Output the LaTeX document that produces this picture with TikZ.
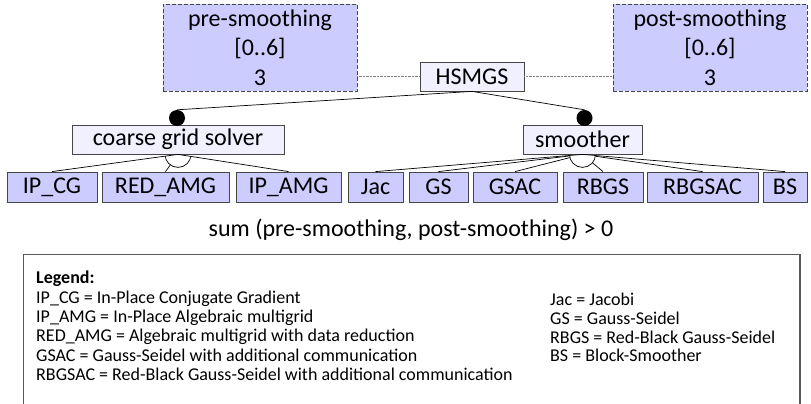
\documentclass[tikz,border=0pt]{standalone}
\usepackage{fontspec}
\setmainfont{Carlito}
\definecolor{boxfill}{RGB}{204,204,255}
\definecolor{lightfill}{RGB}{240,240,255}
\definecolor{edge}{RGB}{70,70,70}
\tikzset{
  feat/.style={draw=edge, line width=0.8pt, inner sep=0pt, font=\fontsize{24}{29.5}\selectfont, minimum height=29pt},
  attr/.style={feat, fill=boxfill, dash pattern=on 4pt off 2pt, align=center},
  light/.style={feat, fill=lightfill},
  leaf/.style={feat, fill=boxfill, minimum height=30pt},
  conn/.style={draw=black, line width=0.7pt},
  inner/.style={conn, shorten <=13pt},
  dotline/.style={draw=gray, line width=0.8pt, dash pattern=on 0.8pt off 0.6pt},
  mand/.style={circle, fill=black, minimum size=16pt, inner sep=0pt},
  groupArc/.style={draw=black, line width=0.7pt},
  legtext/.style={anchor=west, inner sep=0pt, font=\fontsize{18}{18}\selectfont},
  plain/.style={inner sep=0pt, font=\fontsize{24}{29}\selectfont},
  legframe/.style={draw=gray!70!black, line width=0.8pt}
}
\begin{document}
\begin{tikzpicture}[x=1pt,y=-1pt]
\useasboundingbox (0,0) rectangle (811,404);
% attributes and root
\node[attr, minimum width=194pt, minimum height=87pt] (pre) at (260,47.5) {pre-smoothing\\{[0..6]}\\3};
\node[attr, minimum width=194pt, minimum height=87pt] (post) at (710,47.5) {post-smoothing\\{[0..6]}\\3};
\node[light, minimum width=104pt] (hsmgs) at (472,76.5) {HSMGS};
\draw[dotline] (hsmgs.west) -- (hsmgs.west -| pre.east);
\draw[dotline] (hsmgs.east) -- (hsmgs.east -| post.west);
% second level
\node[light, minimum width=212pt] (coarse) at (178,139.5) {coarse grid solver};
\node[light, minimum width=119pt] (smoother) at (582.5,139.5) {smoother};
\node[mand] (cdot) at (177,118) {};
\node[mand] (sdot) at (584.5,118) {};
\draw[conn] (hsmgs.south) -- (cdot.north);
\draw[conn] (hsmgs.south) -- (sdot.north);
% leaves
\node[leaf, minimum width=90pt] (ipcg) at (52,187) {IP\_CG};
\node[leaf, minimum width=127pt] (redamg) at (165.5,187) {RED\_AMG};
\node[leaf, minimum width=105pt] (ipamg) at (288.5,187) {IP\_AMG};
\node[leaf, minimum width=55pt] (jac) at (375.5,187) {Jac};
\node[leaf, minimum width=59pt] (gs) at (438.5,187) {GS};
\node[leaf, minimum width=84pt] (gsac) at (515,187) {GSAC};
\node[leaf, minimum width=80pt] (rbgs) at (603,187) {RBGS};
\node[leaf, minimum width=111pt] (rbgsac) at (702.5,187) {RBGSAC};
\node[leaf, minimum width=44pt] (bs) at (785,187) {BS};
% coarse grid solver group
\draw[conn] (coarse.south) -- (ipcg.north);
\draw[inner] (coarse.south) -- (redamg.north);
\draw[conn] (coarse.south) -- (ipamg.north);
\begin{scope}
  \clip (coarse.south) -- (ipcg.north) -- (ipamg.north) -- cycle;
  \draw[groupArc] (coarse.south) circle[radius=13pt];
\end{scope}
% smoother group
\draw[conn] (smoother.south) -- (jac.north);
\draw[inner] (smoother.south) -- (gs.north);
\draw[inner] (smoother.south) -- (gsac.north);
\draw[inner] (smoother.south) -- (rbgs.north);
\draw[inner] (smoother.south) -- (rbgsac.north);
\draw[conn] (smoother.south) -- (bs.north);
\begin{scope}
  \clip (smoother.south) -- (jac.north) -- (bs.north) -- cycle;
  \draw[groupArc] (smoother.south) circle[radius=13pt];
\end{scope}
% constraint
\node[plain] (constraint) at (411,230) {sum (pre-smoothing, post-smoothing) > 0};
% legend
\draw[legframe] (23,404) -- (23,254) -- (800,254);
\draw[legframe, line width=1.6pt] (800,254) -- (800,404);
\node[legtext, font=\fontsize{18}{18}\selectfont\bfseries] (legtitle) at (36,279) {Legend:};
\node[legtext] (l1) at (36,299) {IP\_CG = In-Place Conjugate Gradient};
\node[legtext] (l2) at (36,318) {IP\_AMG = In-Place Algebraic multigrid};
\node[legtext] (l3) at (36,337) {RED\_AMG = Algebraic multigrid with data reduction};
\node[legtext] (l4) at (36,355) {GSAC = Gauss-Seidel with additional communication};
\node[legtext] (l5) at (36,374) {RBGSAC = Red-Black Gauss-Seidel with additional communication};
\node[legtext] (r1) at (550,299) {Jac = Jacobi};
\node[legtext] (r2) at (550,318) {GS = Gauss-Seidel};
\node[legtext] (r3) at (550,337) {RBGS = Red-Black Gauss-Seidel};
\node[legtext] (r4) at (550,355) {BS = Block-Smoother};
\end{tikzpicture}
\end{document}
